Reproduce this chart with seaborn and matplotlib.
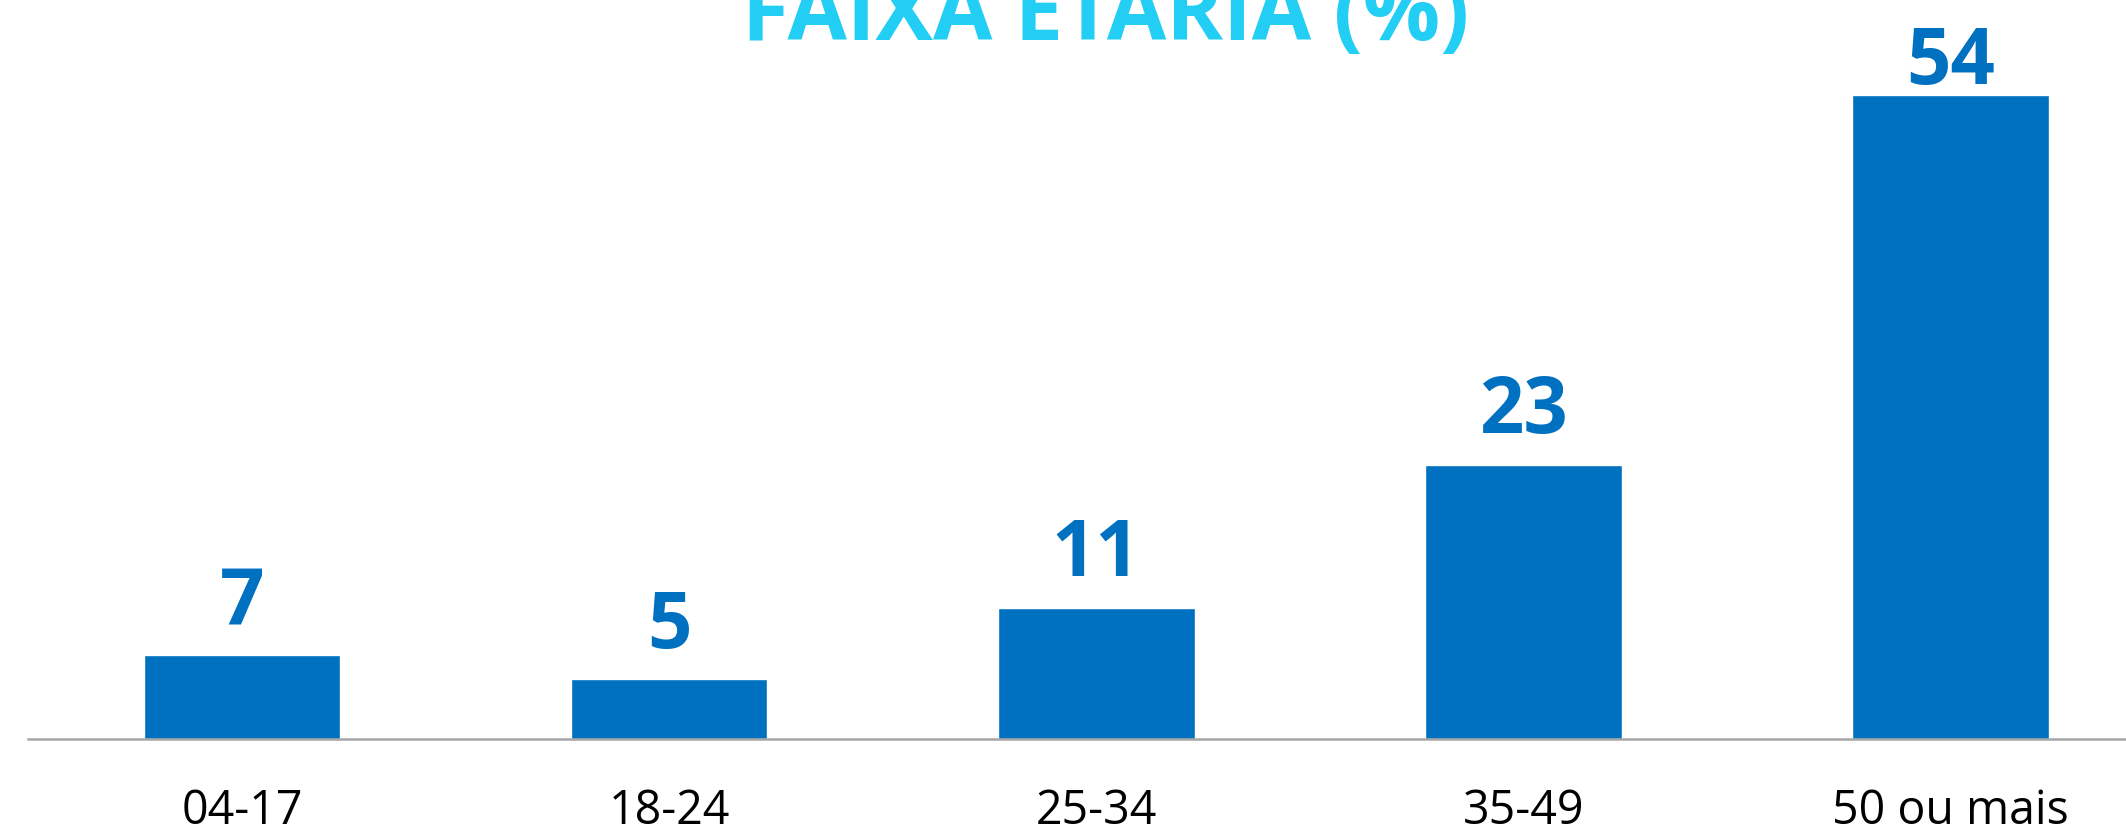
import matplotlib
matplotlib.use("Agg")
import matplotlib.pyplot as plt
import seaborn as sns
import pandas as pd

# faixa etaria data
faixas = ["04-17", "18-24", "25-34", "35-49", "50 ou mais"]
percentuais = [7, 5, 11, 23, 54]

BLUE = "#0070C0"
CYAN = "#23CEF5"

sns.set_theme(style="white")
plt.rcParams["font.family"] = ["Open Sans", "DejaVu Sans"]

df = pd.DataFrame({"faixa": faixas, "pct": percentuais})

fig = plt.figure(figsize=(21.26, 8.31), dpi=100)
ax = fig.add_axes([0.0134, 0.1107, 1.0045, 0.8616])

sns.barplot(data=df, x="faixa", y="pct", color=BLUE, saturation=1,
            width=0.46, ax=ax)

ax.set_xlim(-0.5, 4.5)
ax.set_ylim(0, 60)

# tallest bar label sits closer to the bar (it hits the top of the chart)
top = max(percentuais)
low_labels = [str(v) if v != top else "" for v in percentuais]
top_labels = [str(v) if v == top else "" for v in percentuais]
bars = ax.containers[0]
ax.bar_label(bars, labels=low_labels, padding=9, color=BLUE, fontsize=56,
             fontweight="bold")
ax.bar_label(bars, labels=top_labels, padding=-6, color=BLUE, fontsize=56,
             fontweight="bold")

for s in ["top", "right", "left"]:
    ax.spines[s].set_visible(False)
ax.spines["bottom"].set_color("#A6A6A6")
ax.spines["bottom"].set_linewidth(1.8)

ax.set_yticks([])
ax.set_xlabel("")
ax.set_ylabel("")
ax.tick_params(axis="x", length=0, pad=35, labelsize=33.5, labelcolor="black")

fig.text(0.52, 0.952, "FAIXA ETÁRIA (%)", color=CYAN, fontsize=62,
         fontweight="bold", ha="center", va="baseline")

fig.savefig("out.png", dpi=100)
plt.close(fig)
